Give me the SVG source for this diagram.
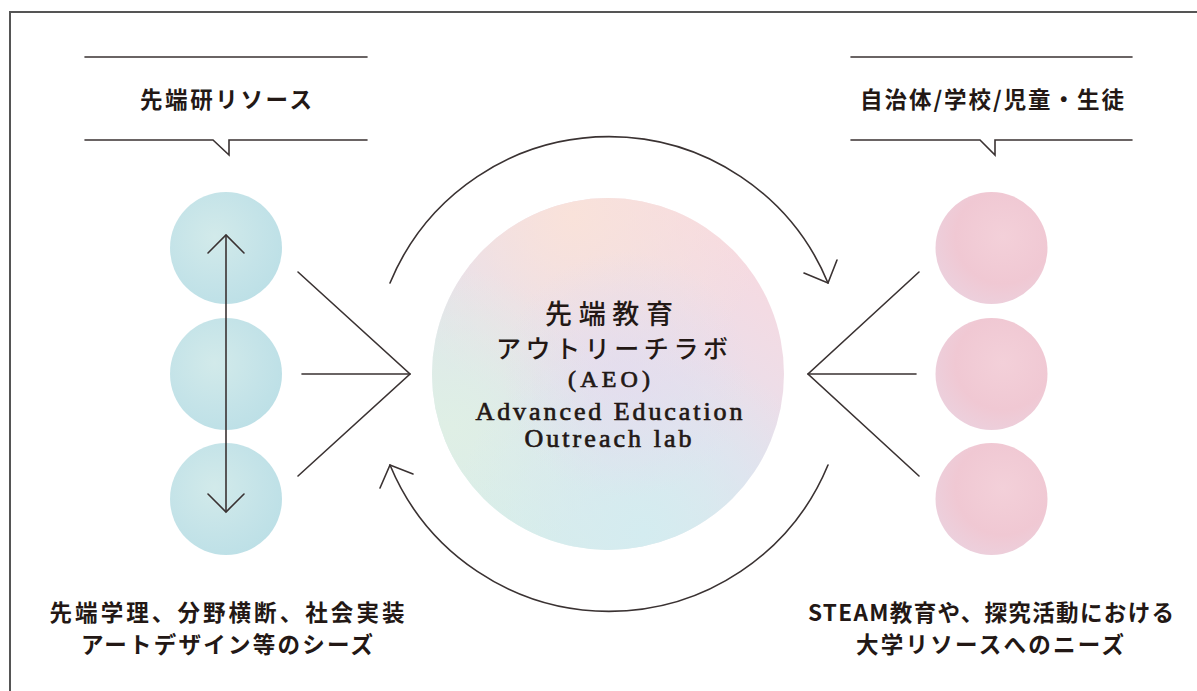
<svg xmlns="http://www.w3.org/2000/svg" width="1197" height="691" viewBox="0 0 1197 691">
<style>
.ln{fill:none;stroke:#3a3232;stroke-width:1.6;stroke-linecap:round;stroke-linejoin:miter}
.frame{fill:none;stroke:#555;stroke-width:2}
.lbl{font-family:"Noto Sans CJK JP","Noto Sans",sans-serif;font-weight:700;font-size:22.5px;fill:#231815;text-anchor:middle}
.ctr{font-family:"Liberation Serif","Noto Sans CJK JP",serif;fill:#231815;text-anchor:middle}
.en{stroke:#231815;stroke-width:0.7}
.jp{font-family:"Noto Sans CJK JP",sans-serif;font-weight:500}
</style>
<defs>
<radialGradient id="blue" cx="0.4" cy="0.4" r="0.7">
<stop offset="0" stop-color="#d2eaea"/>
<stop offset="0.6" stop-color="#c4e3e8"/>
<stop offset="1" stop-color="#bbdfe6"/>
</radialGradient>
<radialGradient id="pink" cx="0.6" cy="0.4" r="0.7">
<stop offset="0" stop-color="#f3d0d9"/>
<stop offset="0.6" stop-color="#f0c8d3"/>
<stop offset="1" stop-color="#ebd2df"/>
</radialGradient>
<linearGradient id="cbase" x1="0.2" y1="0.9" x2="0.8" y2="0.1">
<stop offset="0" stop-color="#d8ede9"/>
<stop offset="0.5" stop-color="#e5e0ee"/>
<stop offset="1" stop-color="#f6dae1"/>
</linearGradient>
<radialGradient id="cpeach" cx="0.4" cy="0.05" r="0.55">
<stop offset="0" stop-color="#f9e2da" stop-opacity="1"/>
<stop offset="1" stop-color="#f9e2da" stop-opacity="0"/>
</radialGradient>
<radialGradient id="cblue" cx="0.6" cy="0.95" r="0.55">
<stop offset="0" stop-color="#d4ecf0" stop-opacity="1"/>
<stop offset="1" stop-color="#d4ecf0" stop-opacity="0"/>
</radialGradient>
<radialGradient id="cmint" cx="0.05" cy="0.65" r="0.45">
<stop offset="0" stop-color="#dfefe5" stop-opacity="1"/>
<stop offset="1" stop-color="#dfefe5" stop-opacity="0"/>
</radialGradient>
<radialGradient id="clav" cx="0.55" cy="0.5" r="0.35">
<stop offset="0" stop-color="#e4ddee" stop-opacity="0.9"/>
<stop offset="1" stop-color="#e4ddee" stop-opacity="0"/>
</radialGradient>
</defs>
<rect width="1197" height="691" fill="#fff"/>
<g id="frame">
<polyline class="frame" points="10,691 10,12 1197,12"/>
</g>

<g id="label-left">
<line class="ln" x1="85" y1="57" x2="367" y2="57"/>
<polyline class="ln" points="85,140 213,140 229,155 229,140 367,140"/>
<text class="lbl" x="226" y="108" textLength="172" lengthAdjust="spacing">先端研リソース</text>
</g>
<g id="label-right">
<line class="ln" x1="851" y1="57" x2="1132" y2="57"/>
<polyline class="ln" points="851,140 980,140 995,155 995,140 1132,140"/>
<text class="lbl" x="992" y="108" textLength="264" lengthAdjust="spacing">自治体/学校/児童・生徒</text>
</g>

<g id="seeds">
<circle cx="226" cy="248" r="56" fill="url(#blue)"/>
<circle cx="226" cy="374" r="56" fill="url(#blue)"/>
<circle cx="226" cy="499" r="56" fill="url(#blue)"/>
</g>
<g id="needs">
<circle cx="991.5" cy="248" r="56" fill="url(#pink)"/>
<circle cx="991.5" cy="374" r="56" fill="url(#pink)"/>
<circle cx="991.5" cy="499" r="56" fill="url(#pink)"/>
</g>

<g id="aeo">
<circle cx="608" cy="374" r="176" fill="url(#cbase)"/>
<circle cx="608" cy="374" r="176" fill="url(#cpeach)"/>
<circle cx="608" cy="374" r="176" fill="url(#cmint)"/>
<circle cx="608" cy="374" r="176" fill="url(#cblue)"/>
<circle cx="608" cy="374" r="176" fill="url(#clav)"/>
<text class="ctr jp" x="609" y="324" font-size="27" textLength="128" lengthAdjust="spacing">先端教育</text>
<text class="ctr jp" x="612" y="358" font-size="25" textLength="232" lengthAdjust="spacing">アウトリーチラボ</text>
<text class="ctr en" x="609" y="387" font-size="24" textLength="82" lengthAdjust="spacing">(AEO)</text>
<text class="ctr en" x="609" y="420" font-size="26" textLength="267" lengthAdjust="spacing">Advanced Education</text>
<text class="ctr en" x="608" y="447" font-size="26" textLength="167" lengthAdjust="spacing">Outreach lab</text>
</g>

<g id="connectors">
<line class="ln" x1="226" y1="236" x2="226" y2="511"/>
<polyline class="ln" points="208,253 226,235 244,253"/>
<polyline class="ln" points="208,494 226,512 244,494"/>
<polyline class="ln" points="298,272 410,374 298,476"/>
<line class="ln" x1="302" y1="374" x2="410" y2="374"/>
<polyline class="ln" points="919,272 808,374 919,476"/>
<line class="ln" x1="808" y1="374" x2="916" y2="374"/>
<path class="ln" d="M390,283 A237,237 0 0 1 828,283"/>
<polyline class="ln" points="804,273 828,283 837,260"/>
<path class="ln" d="M828,465 A237,237 0 0 1 390,465"/>
<polyline class="ln" points="413,474 390,465 380,488"/>
</g>

<g id="text-left">
<text class="lbl" x="227" y="621" textLength="355" lengthAdjust="spacing">先端学理、分野横断、社会実装</text>
<text class="lbl" x="227" y="653" textLength="292" lengthAdjust="spacing">アートデザイン等のシーズ</text>
</g>
<g id="text-right">
<text class="lbl" x="991" y="621" textLength="366" lengthAdjust="spacing">STEAM教育や、探究活動における</text>
<text class="lbl" x="990" y="653" textLength="268" lengthAdjust="spacing">大学リソースへのニーズ</text>
</g>
</svg>
